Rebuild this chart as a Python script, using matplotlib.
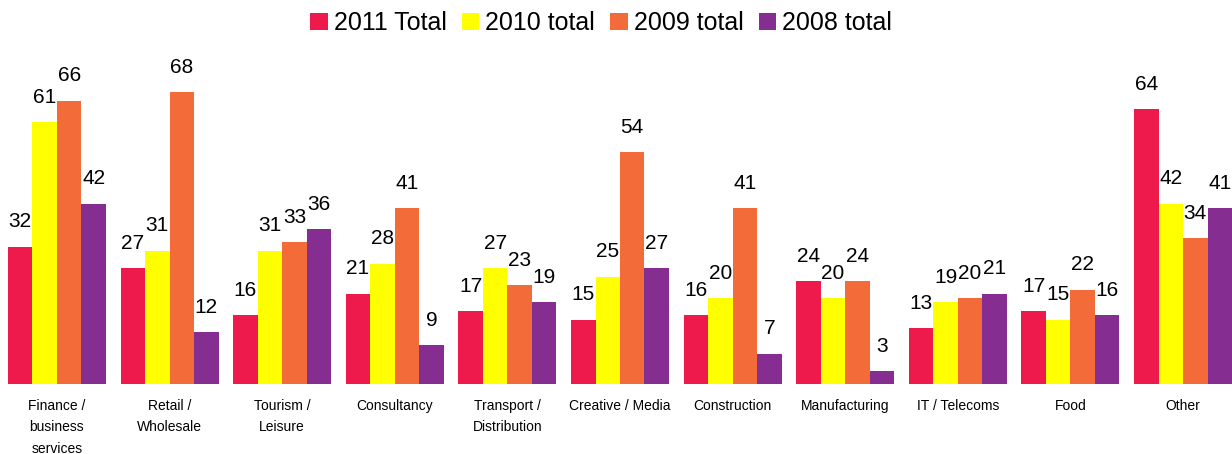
import numpy as np
import matplotlib.pyplot as plt

plt.rcParams['font.family'] = ['Liberation Sans', 'DejaVu Sans']

# Sectors and yearly totals
sectors = ['Finance /\nbusiness\nservices', 'Retail /\nWholesale', 'Tourism /\nLeisure',
           'Consultancy', 'Transport /\nDistribution', 'Creative / Media',
           'Construction', 'Manufacturing', 'IT / Telecoms', 'Food', 'Other']
total_2011 = [32, 27, 16, 21, 17, 15, 16, 24, 13, 17, 64]
total_2010 = [61, 31, 31, 28, 27, 25, 20, 20, 19, 15, 42]
total_2009 = [66, 68, 33, 41, 23, 54, 41, 24, 20, 22, 34]
total_2008 = [42, 12, 36, 9, 19, 27, 7, 3, 21, 16, 41]

series = [('2011 Total', total_2011, '#EE1A4B'),
          ('2010 total', total_2010, '#FFFF00'),
          ('2009 total', total_2009, '#F26B38'),
          ('2008 total', total_2008, '#862D91')]

fig = plt.figure(figsize=(12.32, 4.54), dpi=100)
ax = fig.add_axes([0, 70 / 454, 1, 334 / 454])

x = np.arange(len(sectors))
width = 0.2175
for i, (name, vals, color) in enumerate(series):
    pos = x + (i - 1.5) * width
    bars = ax.bar(pos, vals, width, color=color, label=name)
    for b, v in zip(bars, vals):
        ax.text(b.get_x() + b.get_width() / 2, v + 3.6, str(v),
                ha='center', va='bottom', fontsize=15)

ax.set_xlim(-0.506, 10.435)
ax.set_ylim(0, 77.8)
ax.set_xticks(x)
ax.set_xticklabels(sectors, fontsize=10, linespacing=1.65, va='top')
ax.tick_params(axis='x', length=0, pad=11)
ax.set_yticks([])
for s in ax.spines.values():
    s.set_visible(False)

fig.legend(loc='upper center', bbox_to_anchor=(0.488, 1.025), ncol=4, frameon=False,
           fontsize=18, handlelength=0.7, handleheight=0.7, handletextpad=0.25,
           columnspacing=0.6)

plt.savefig('out.png', dpi=100)
